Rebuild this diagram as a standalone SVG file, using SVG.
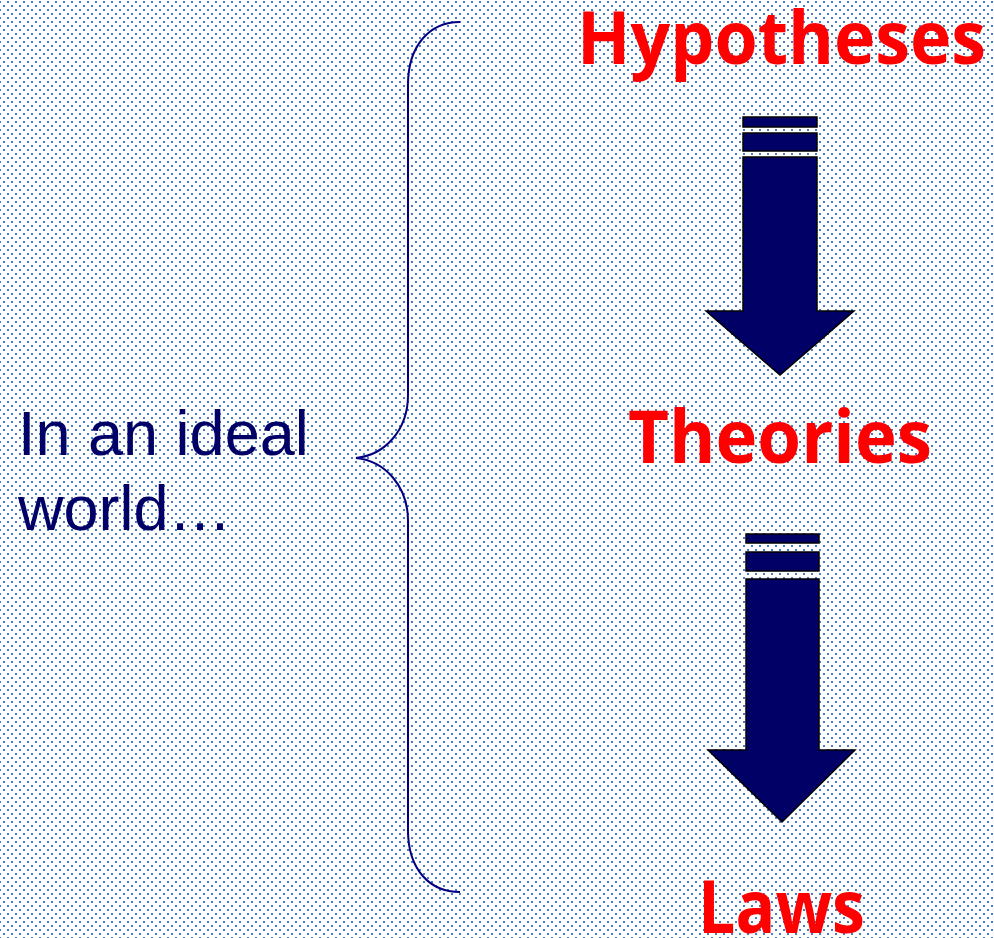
<svg xmlns="http://www.w3.org/2000/svg" width="994" height="938" viewBox="0 0 994 938">
<defs>
<pattern id="dots" width="8" height="8" patternUnits="userSpaceOnUse">
<rect x="0" y="0" width="8" height="8" fill="#ffffff"/>
<rect x="7" y="1" width="2" height="2" fill="#4a7cc4"/>
<rect x="-1" y="1" width="2" height="2" fill="#4a7cc4"/>
<rect x="3" y="5" width="2" height="2" fill="#4a7cc4"/>
</pattern>
</defs>
<style>
.title{font-family:"Open Sans","Liberation Sans",sans-serif;font-weight:bold;fill:#ff0000;font-size:74px}
.side{font-family:"Liberation Sans",Arial,sans-serif;fill:#000066;font-size:63px}
.arrow{fill:#000066;stroke:#000000;stroke-width:1.5;stroke-linejoin:miter}
.brace{fill:none;stroke:#000080;stroke-width:2}
</style>
<rect x="0" y="0" width="994" height="938" fill="url(#dots)"/>
<g id="hypotheses"><text class="title" x="577" y="64" textLength="409" lengthAdjust="spacingAndGlyphs">Hypotheses</text></g>
<g id="theories"><text class="title" x="628" y="463" textLength="304" lengthAdjust="spacingAndGlyphs">Theories</text></g>
<g id="laws"><text class="title" x="698" y="933" textLength="167" lengthAdjust="spacingAndGlyphs">Laws</text></g>
<g id="ideal"><text class="side" x="18" y="455">In an ideal</text><text class="side" x="18" y="530">world…</text></g>
<g id="connectors">
<path class="brace" d="M460,22 C430,22 408,45 408,85 L408,395 C408,430 385,455 356,458 C385,461 408,486 408,521 L408,830 C408,870 430,892 460,892"/>
<g id="arrow1">
<rect class="arrow" x="743" y="117" width="74" height="10"/>
<rect class="arrow" x="743" y="133" width="74" height="18"/>
<path class="arrow" d="M743,157 L817,157 L817,311 L854,311 L780,375 L706,311 L743,311 Z"/>
</g>
<g id="arrow2">
<rect class="arrow" x="746" y="534" width="73" height="9"/>
<rect class="arrow" x="746" y="552" width="73" height="19"/>
<path class="arrow" d="M746,579 L819,579 L819,750 L855,750 L782,822 L708,750 L746,750 Z"/>
</g>
</g>
</svg>
